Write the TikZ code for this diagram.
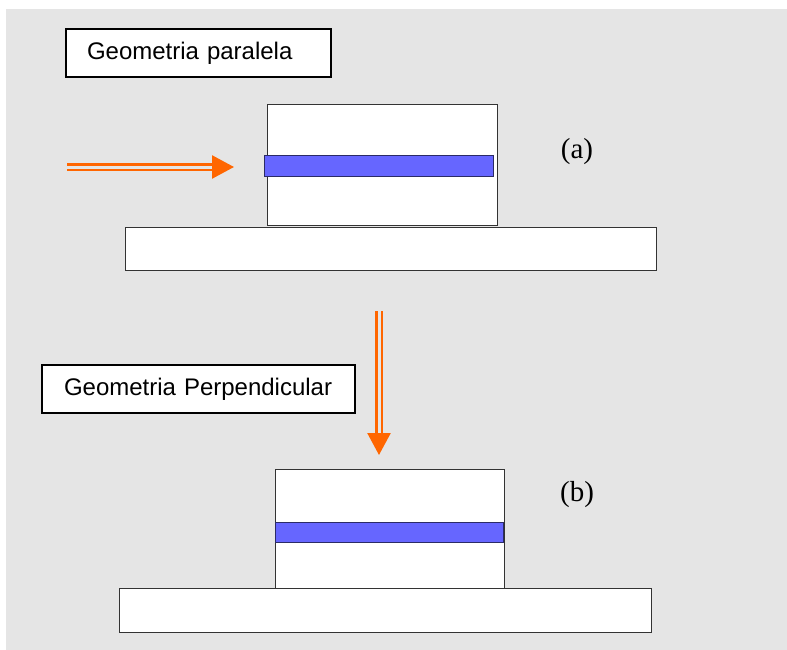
\documentclass[tikz,border=0pt]{standalone}
\usepackage{fontspec}
\setmainfont{Liberation Serif}
\setsansfont{Liberation Sans}
\usetikzlibrary{arrows.meta,positioning}
\definecolor{bggray}{HTML}{E5E5E5}
\definecolor{beam}{HTML}{FF6600}
\definecolor{film}{HTML}{6666FF}
\definecolor{filmedge}{HTML}{2B2B66}

\begin{document}
\begin{tikzpicture}[x=1pt, y=-1pt,
      caption/.style={rectangle, draw=black, line width=1.5pt, fill=white, font=\sffamily\fontsize{24}{28}\selectfont, align=left, inner ysep=0pt, minimum height=48pt},
      block/.style={rectangle, draw=black!80, line width=1pt, fill=white, inner sep=0pt},
      layer/.style={rectangle, draw=filmedge, line width=1pt, fill=film, inner sep=0pt, minimum height=20pt},
      tag/.style={font=\fontsize{29}{33}\selectfont},
      beamarrow/.style={draw=beam, line width=2.5pt, double=bggray, double distance=3pt, -{Triangle[length=22pt, width=23pt]}},
    ]
    \useasboundingbox (0, 0) rectangle (787, 650);
    \fill [bggray] (6, 9) rectangle (787, 650);
    % Parallel geometry (top)
    \node [caption, inner xsep=21pt, text width=223pt] (capA) at (198.5, 53) {\mbox{Geometria paralela}};
    \node [block, minimum width=531pt, minimum height=43pt] (baseA) at (390.5, 248.5) {};
    \node [block, minimum width=230pt, minimum height=120pt] (blockA) at (382, 165) {};
    \node [layer, minimum width=229pt] (filmA) at (378.5, 166) {};
    \node [tag] (tagA) at (577, 152) {(a)};
    \coordinate (srcA) at (67, 167);
    \coordinate (tipA) at (234, 167);
    \draw [beamarrow] (srcA) -- (tipA);
    % Perpendicular geometry (bottom)
    \node [caption, inner xsep=22pt, text width=269pt] (capB) at (198.5, 389) {\mbox{Geometria Perpendicular}};
    \node [block, minimum width=532pt, minimum height=44pt] (baseB) at (385, 610) {};
    \node [block, minimum width=229pt, minimum height=119pt] (blockB) at (389.5, 528.5) {};
    \node [layer, minimum width=228pt] (filmB) at (389, 532) {};
    \node [tag] (tagB) at (577, 495) {(b)};
    \coordinate (srcB) at (379, 311);
    \coordinate (tipB) at (379, 455);
    \draw [beamarrow] (srcB) -- (tipB);
  \end{tikzpicture}
\end{document}
